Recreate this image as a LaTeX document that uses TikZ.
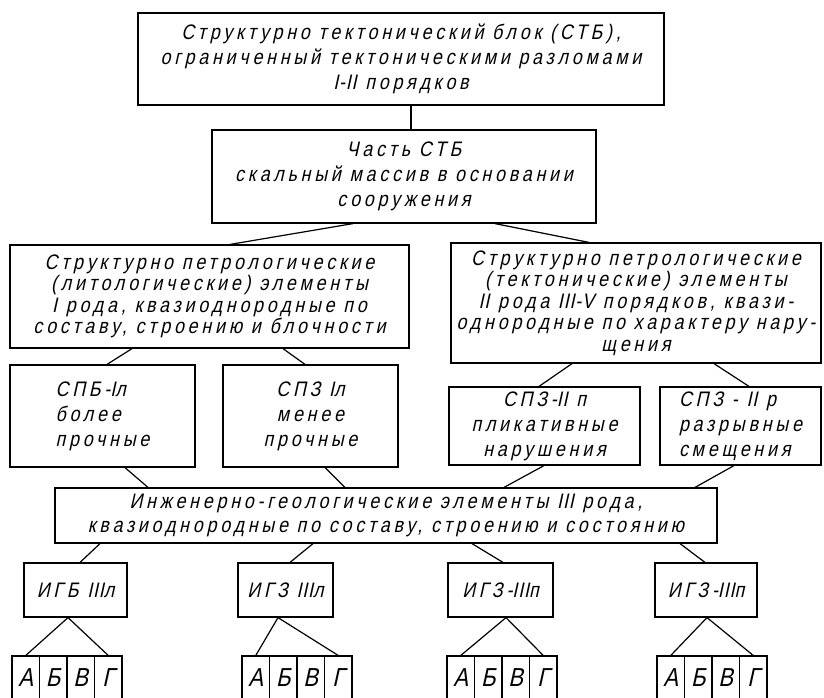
\documentclass[tikz,border=0pt]{standalone}
\usepackage{fontspec}
\newfontfamily\gost[LetterSpace=18, FakeStretch=0.85, FakeSlant=0.22]{Liberation Sans}
\newcommand\rmnum[1]{{\addfontfeature{LetterSpace=4}#1}}
\begin{document}
\begin{tikzpicture}[x=1pt,y=-1pt,
  box/.style={draw, line width=1.2pt, inner sep=0pt, align=center,
    font=\gost\fontsize{21}{25}\selectfont},
  tight/.style={font=\gost\fontsize{21}{21.5}\selectfont},
  link/.style={line width=1.2pt},
  cell/.style={draw, line width=1.1pt, inner sep=0pt, minimum height=44pt,
    minimum width=27.5pt, font=\gost\fontsize{26}{30}\selectfont}]
\useasboundingbox (0,0) rectangle (824,697);

\node[box, minimum width=526pt, minimum height=92pt] (top) at (401,59)
  {Структурно тектонический блок (СТБ),\\ограниченный тектоническими разломами\\\rmnum{I-II} порядков};
\node[box, minimum width=384pt, minimum height=93pt] (part) at (404,176.5)
  {Часть СТБ\\скальный массив в основании\\сооружения};
\node[box, tight, minimum width=399pt, minimum height=103pt] (l3l) at (209.5,296.5)
  {Структурно петрологические\\(литологические) элементы\\\rmnum{I} рода, квазиоднородные по\\составу, строению и блочности};
\node[box, tight, minimum width=370pt, minimum height=120pt] (l3r) at (636,303)
  {Структурно петрологические\\(тектонические) элементы\\\rmnum{II} рода \rmnum{III-V} порядков, квази-\\однородные по характеру нару-\\щения};
\node[box, align=left, minimum width=185pt, minimum height=102pt] (spb) at (102.5,416)
  {СПБ-\rmnum{I}л\\более\\прочные};
\node[box, minimum width=175pt, minimum height=102pt] (spz) at (310.5,416)
  {СПЗ \rmnum{I}л\\менее\\прочные};
\node[box, minimum width=191pt, minimum height=78pt] (spzp) at (544.5,426)
  {СПЗ-\rmnum{II} п\\пликативные\\нарушения};
\node[box, align=left, minimum width=161pt, minimum height=78pt] (spzr) at (740.5,426)
  {СПЗ - \rmnum{II} р\\разрывные\\смещения};
\node[box, font=\gost\fontsize{21}{24}\selectfont, minimum width=662pt, minimum height=55pt] (ig) at (386,515.5)
  {Инженерно-геологические элементы \rmnum{III} рода,\\квазиоднородные по составу, строению и состоянию};
\node[box, minimum width=103pt, minimum height=54pt] (igb) at (75.5,590) {ИГБ \rmnum{III}л};
\node[box, minimum width=95pt, minimum height=54pt] (igz1) at (285.5,590) {ИГЗ \rmnum{III}л};
\node[box, minimum width=105pt, minimum height=54pt] (igz2) at (500.5,590) {ИГЗ-\rmnum{III}п};
\node[box, minimum width=102pt, minimum height=54pt] (igz3) at (706,590) {ИГЗ-\rmnum{III}п};

\foreach \gx/\gi in {12/1,242/2,447/3,657/4}{
  \foreach \L/\n [count=\k from 0] in {А/a,Б/b,В/v,Г/g}{
    \node[cell] (\n\gi) at (\gx+13.75+27.5*\k,678) {\L};
  }
}

\draw[link] ([xshift=10pt]top.south) -- ([xshift=10pt]top.south |- part.north);
\draw[link] ([xshift=-51pt]part.south) -- ([xshift=20.5pt]l3l.north);
\draw[link] ([xshift=91pt]part.south) -- ([xshift=-47pt]l3r.north);
\draw[link] ([xshift=-77.5pt]l3l.south) -- ([xshift=4.5pt]spb.north);
\draw[link] ([xshift=73.5pt]l3l.south) -- ([xshift=-5.5pt]spz.north);
\draw[link] ([xshift=-64pt]l3r.south) -- ([xshift=-5.5pt]spzp.north);
\draw[link] ([xshift=78pt]l3r.south) -- ([xshift=8.5pt]spzr.north);
\draw[link] ([xshift=22.5pt]spb.south) -- ([xshift=-238pt]ig.north);
\draw[link] ([xshift=14.5pt]spz.south) -- ([xshift=-41pt]ig.north);
\draw[link] ([xshift=-0.5pt]spzp.south) -- ([xshift=118pt]ig.north);
\draw[link] ([xshift=-6.5pt]spzr.south) -- ([xshift=309pt]ig.north);
\draw[link] ([xshift=-286pt]ig.south) -- ([xshift=4.5pt]igb.north);
\draw[link] ([xshift=-73pt]ig.south) -- ([xshift=4.5pt]igz1.north);
\draw[link] ([xshift=86pt]ig.south) -- ([xshift=2.5pt]igz2.north);
\draw[link] ([xshift=294pt]ig.south) -- ([xshift=-1pt]igz3.north);
\draw[link] ([xshift=-7.5pt]igb.south) -- (a1.north);
\draw[link] ([xshift=-7.5pt]igb.south) -- (g1.north);
\draw[link] ([xshift=-7.5pt]igz1.south) -- (a2.north);
\draw[link] ([xshift=-7.5pt]igz1.south) -- (g2.north);
\draw[link] ([xshift=5.5pt]igz2.south) -- (a3.north);
\draw[link] ([xshift=5.5pt]igz2.south) -- (g3.north);
\draw[link] ([xshift=1pt]igz3.south) -- (a4.north);
\draw[link] ([xshift=1pt]igz3.south) -- (g4.north);
\end{tikzpicture}
\end{document}
